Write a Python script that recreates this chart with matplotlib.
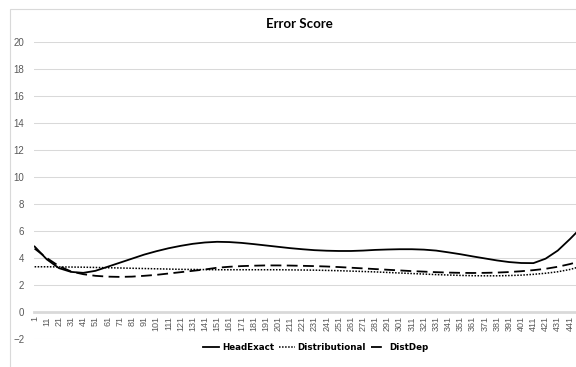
import matplotlib.pyplot as plt
from matplotlib.patches import Rectangle

# sampled every 10 categories along the curves
categories = [1, 11, 21, 31, 41, 51, 61, 71, 81, 91, 101, 111, 121, 131, 141, 151,
              161, 171, 181, 191, 201, 211, 221, 231, 241, 251, 261, 271, 281, 291,
              301, 311, 321, 331, 341, 351, 361, 371, 381, 391, 401, 411, 421, 431,
              441, 447]
head_exact = [4.85, 3.9, 3.25, 2.97, 2.9, 3.05, 3.35, 3.65, 3.95, 4.25, 4.5, 4.72,
              4.9, 5.05, 5.15, 5.2, 5.18, 5.12, 5.03, 4.93, 4.83, 4.73, 4.65, 4.58,
              4.54, 4.52, 4.52, 4.55, 4.6, 4.63, 4.65, 4.65, 4.62, 4.55, 4.42, 4.28,
              4.12, 3.97, 3.82, 3.7, 3.63, 3.62, 3.95, 4.55, 5.4, 5.95]
distributional = [3.35, 3.35, 3.34, 3.33, 3.32, 3.3, 3.28, 3.26, 3.24, 3.22, 3.2,
                  3.18, 3.16, 3.15, 3.14, 3.13, 3.13, 3.13, 3.13, 3.13, 3.13, 3.12,
                  3.11, 3.1, 3.08, 3.06, 3.03, 3.0, 2.97, 2.93, 2.89, 2.85, 2.81,
                  2.77, 2.74, 2.71, 2.69, 2.68, 2.68, 2.7, 2.73, 2.79, 2.87, 2.98,
                  3.15, 3.3]
dist_dep = [4.7, 4.0, 3.4, 3.0, 2.8, 2.68, 2.62, 2.6, 2.62, 2.68, 2.75, 2.85, 2.95,
            3.05, 3.15, 3.28, 3.35, 3.4, 3.43, 3.45, 3.45, 3.44, 3.42, 3.4, 3.37,
            3.33, 3.28, 3.23, 3.18, 3.13, 3.08, 3.03, 2.99, 2.95, 2.92, 2.9, 2.89,
            2.9, 2.92, 2.96, 3.02, 3.1, 3.2, 3.35, 3.55, 3.7]
tick_labels = [str(c) for c in range(1, 442, 10)]

fig = plt.figure(figsize=(5.76, 3.67), dpi=100)
fig.patches.append(Rectangle((10 / 576, -0.1), 1.2, 1 - 9 / 367 + 0.1,
                             transform=fig.transFigure, fill=False,
                             edgecolor='#d9d9d9', lw=0.8))
ax = fig.add_axes([34 / 576, 28 / 367, 1 - 34 / 576, 297 / 367])

grey = '#595959'
ax.plot(categories, head_exact, color='black', lw=1.3, label='HeadExact')
ax.plot(categories, distributional, color='black', lw=1.1, linestyle=(0, (1, 1)),
        label='Distributional')
ax.plot(categories, dist_dep, color='black', lw=1.3, linestyle=(0, (6, 3)),
        label='DistDep')

ax.set_xlim(0.5, 446)
ax.set_ylim(-2, 20)
ax.set_yticks(range(-2, 21, 2))
ax.grid(True, axis='y', color='#d9d9d9', lw=0.75)
ax.set_axisbelow(True)
for s in ['top', 'right', 'left']:
    ax.spines[s].set_visible(False)
ax.spines['bottom'].set_position(('data', 0))
ax.spines['bottom'].set_color('#d9d9d9')
ax.spines['bottom'].set_linewidth(2)
ax.set_xticks(range(1, 442, 10))
ax.set_xticklabels(tick_labels, rotation=90, fontsize=6.5, color=grey,
                   family='Liberation Sans')
ax.tick_params(length=0)
ax.tick_params(axis='x', pad=3)
ax.tick_params(axis='y', pad=7, labelsize=7, labelcolor=grey)
for t in ax.get_yticklabels():
    t.set_family('Liberation Sans')

fig.text(299 / 576, 1 - 24 / 367, 'Error Score', ha='center', va='center',
         fontsize=9.5, fontweight='bold', family='Lato')

leg = ax.legend(loc='center', bbox_to_anchor=(316 / 576, 19 / 367),
                bbox_transform=fig.transFigure, ncol=3, frameon=False,
                prop={'weight': 'bold', 'size': 6.3}, handlelength=1.8,
                handletextpad=0.35, columnspacing=0.55, borderpad=0)

fig.savefig('out.png', dpi=100)
